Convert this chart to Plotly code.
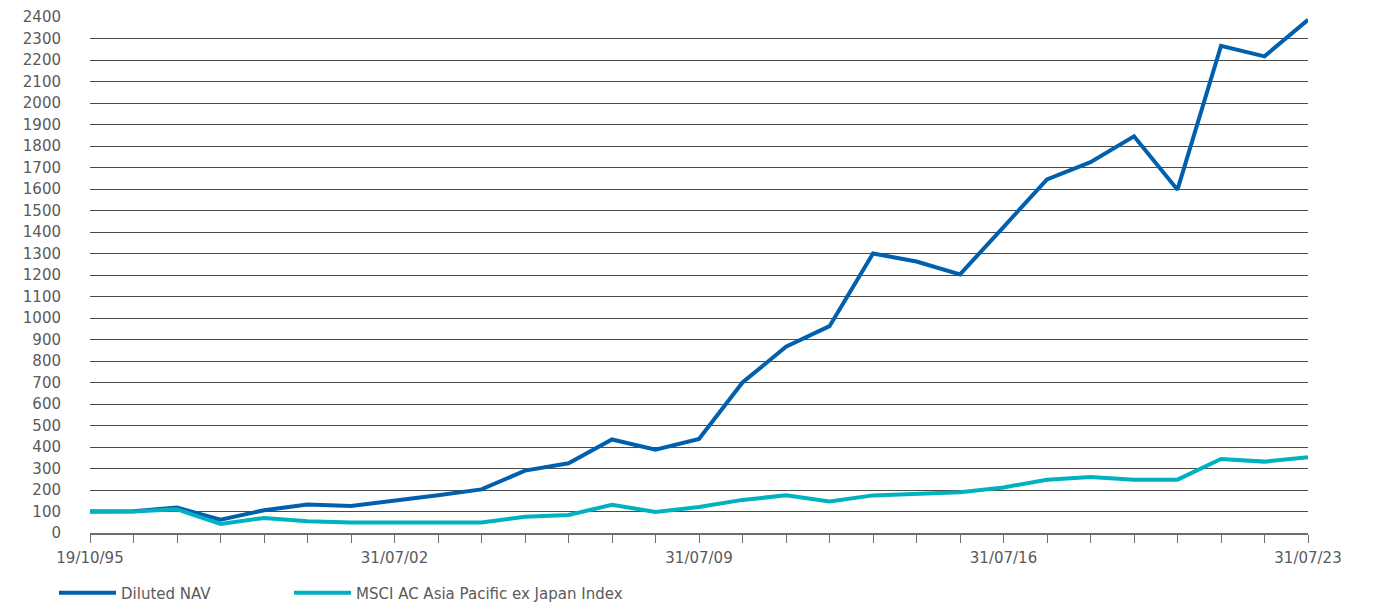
import plotly.graph_objects as go

# Performance since launch, rebased to 100
dates = [
    "19/10/95", "31/07/96", "31/07/97", "31/07/98", "31/07/99", "31/07/00",
    "31/07/01", "31/07/02", "31/07/03", "31/07/04", "31/07/05", "31/07/06",
    "31/07/07", "31/07/08", "31/07/09", "31/07/10", "31/07/11", "31/07/12",
    "31/07/13", "31/07/14", "31/07/15", "31/07/16", "31/07/17", "31/07/18",
    "31/07/19", "31/07/20", "31/07/21", "31/07/22", "31/07/23",
]
diluted_nav = [
    100, 101, 118, 62, 106, 132, 126, 150, 176, 203, 290, 324,
    435, 387, 437, 700, 866, 962, 1300, 1263, 1203, 1423, 1645, 1725,
    1845, 1597, 2266, 2217, 2387,
]
msci_ac_apxj = [
    100, 100, 110, 42, 70, 55, 49, 49, 49, 49, 76, 84,
    131, 98, 121, 154, 175, 147, 175, 183, 190, 212, 248, 260,
    248, 248, 344, 332, 352,
]
labelled = ["19/10/95", "31/07/02", "31/07/09", "31/07/16", "31/07/23"]
y_ticks = list(range(0, 2401, 100))

_C = {
    "nav": "#0060AE",
    "msci": "#00B2C0",
    "grid": "#4a4a4a",
    "axis": "#6e6e6e",
    "text": "#5a5a5a",
}
_FONT = "'DejaVu Sans', sans-serif"

# page body adds an 8px margin, so the figure is 8px smaller than the window
W, H = 1369, 600


def _legend(x):
    return dict(
        orientation="h", xref="container", yref="container",
        x=x, xanchor="left", y=0.025, yanchor="middle",
        itemwidth=57, font=dict(size=15, color=_C["text"]),
        bgcolor="rgba(0,0,0,0)",
    )


fig = go.Figure()
fig.add_trace(go.Scatter(
    x=dates, y=diluted_nav, name="Diluted NAV", mode="lines",
    line=dict(color=_C["nav"], width=4), legend="legend",
))
fig.add_trace(go.Scatter(
    x=dates, y=msci_ac_apxj, name="MSCI AC Asia Pacific ex Japan Index", mode="lines",
    line=dict(color=_C["msci"], width=4), legend="legend2",
))

fig.update_layout(
    width=W, height=H,
    paper_bgcolor="white", plot_bgcolor="white",
    font=dict(family=_FONT, size=15, color=_C["text"]),
    margin=dict(l=82, r=69, t=9, b=75),
    showlegend=True,
    legend=_legend(46 / W),
    legend2=_legend(281 / W),
    xaxis=dict(
        type="category", range=[0, len(dates) - 1],
        tickmode="array", tickvals=dates,
        ticktext=[d if d in labelled else "" for d in dates],
        ticks="outside", ticklen=8, tickcolor=_C["axis"], tickwidth=1,
        showline=True, linecolor=_C["axis"], linewidth=1.5,
        showgrid=False, zeroline=False, automargin=False,
        tickfont=dict(size=15, color=_C["text"]),
        ticklabelstandoff=2,
    ),
    yaxis=dict(
        range=[0, 2400], tickmode="array", tickvals=y_ticks,
        showgrid=True, gridcolor=_C["grid"], gridwidth=1,
        zeroline=False, showline=False, automargin=False,
        tickfont=dict(size=15, color=_C["text"]),
        ticklabelstandoff=28,
    ),
)

fig.write_html("out.html")
